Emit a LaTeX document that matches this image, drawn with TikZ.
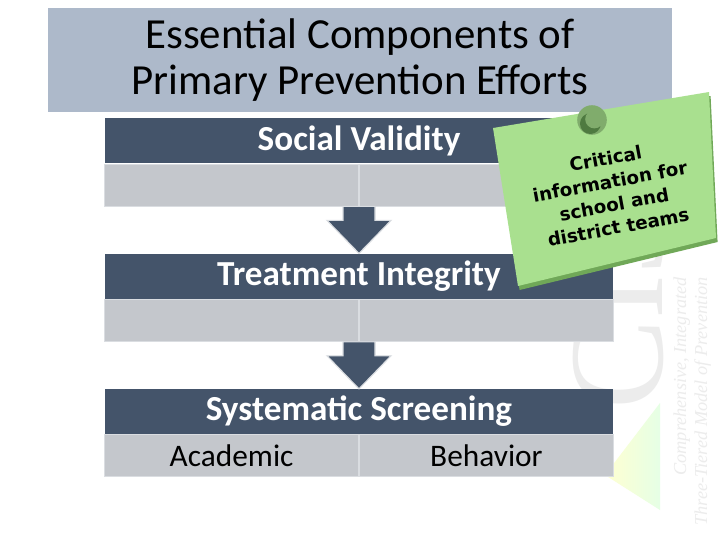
\documentclass[tikz,border=0pt]{standalone}
\usepackage{fontspec}
\setmainfont{Carlito}
\newfontfamily\notefont{DejaVu Sans}
\newfontfamily\markfont{Liberation Serif}
\usepackage{xcolor}
\usepackage{tikz}
\usetikzlibrary{positioning, calc}

\definecolor{titleblue}{RGB}{173,185,202}
\definecolor{slate}{RGB}{68,84,106}
\definecolor{cellgray}{RGB}{196,199,204}
\definecolor{cellline}{RGB}{218,221,225}
\definecolor{notegreen}{RGB}{169,224,143}
\definecolor{notedark}{RGB}{112,168,88}
\definecolor{pinlight}{RGB}{128,172,108}
\definecolor{pindark}{RGB}{78,122,64}
\definecolor{markgray}{RGB}{236,236,236}

\begin{document}
\begin{tikzpicture}[
  titlebox/.style={rectangle, fill=titleblue, minimum width=15.6cm, minimum height=2.6cm,
                   align=center, inner sep=0pt, font=\fontsize{30.5}{33}\selectfont},
  hdrbox/.style={rectangle, fill=slate, text=white, minimum width=12.7cm, minimum height=1.125cm,
                 inner sep=0pt, font=\fontsize{25}{28}\selectfont\bfseries},
  cellbox/.style={rectangle, fill=cellgray, draw=cellline, line width=0.6pt, minimum width=6.35cm,
                  minimum height=1.05cm, inner sep=0pt, font=\fontsize{22.3}{26}\selectfont},
  bigarrow/.style={fill=slate, draw=cellline, line width=0.8pt},
  notetext/.style={align=center, inner sep=0pt, font=\notefont\bfseries\fontsize{13}{16.5}\selectfont},
  marktext/.style={text=markgray, inner sep=0pt, rotate=90, anchor=base east,
                   font=\markfont\itshape\fontsize{13}{15}\selectfont}
]
\useasboundingbox[fill=white] (0,0) rectangle (18,-13.5);

% faint logo in the back
\shade[left color=yellow!18, right color=green!10] (15.125,-11.875) -- (16.5,-10.075) -- (16.5,-12.75) -- cycle;
\node[text=markgray, inner sep=0pt, rotate=90, anchor=base west,
      font=\markfont\fontsize{96}{96}\selectfont] (logo) at (16.55,-10.25) {CI3T};
\node[marktext] (tagA) at (17.15,-6.925) {Comprehensive, Integrated};
\node[marktext] (tagB) at (17.68,-6.925) {Three-Tiered Model of Prevention};

\node[titlebox] (title) at (9,-1.5) {Essential Components of\\Primary Prevention Efforts};

\node[hdrbox, anchor=north] (hdrA) at (8.975,-2.95) {Social Validity};
\node[cellbox, below left=0pt and 0pt of hdrA.south] (rowAl) {};
\node[cellbox, below right=0pt and 0pt of hdrA.south] (rowAr) {};

\node[hdrbox, below=1.175cm of rowAl.south east] (hdrB) {Treatment Integrity};
\node[cellbox, below left=0pt and 0pt of hdrB.south] (rowBl) {};
\node[cellbox, below right=0pt and 0pt of hdrB.south] (rowBr) {};

\node[hdrbox, below=1.175cm of rowBl.south east] (hdrC) {Systematic Screening};
\node[cellbox, below left=0pt and 0pt of hdrC.south] (rowCl) {Academic};
\node[cellbox, below right=0pt and 0pt of hdrC.south] (rowCr) {Behavior};

\foreach \a/\b in {rowAl/hdrB, rowBl/hdrC}
  \draw[bigarrow] ($(\a.south east)+(-0.4,0)$) -- ++(0,-0.35) -- ++(-0.4,0)
    -- (\b.north) -- ($(\a.south east)+(0.8,-0.35)$) -- ++(-0.4,0)
    -- ($(\a.south east)+(0.4,0)$) -- cycle;

% sticky note
\coordinate (nTL) at (12.325,-3.2);
\coordinate (nTR) at (17.725,-2.3);
\coordinate (nBR) at (17.9,-5.95);
\coordinate (nBL) at (12.95,-7.15);
\fill[notedark] ([shift={(0.04,-0.1)}]nTL) -- ([shift={(0.04,-0.1)}]nTR)
  -- ([shift={(0.04,-0.1)}]nBR) -- ([shift={(0.04,-0.1)}]nBL) -- cycle;
\fill[notegreen] (nTL) -- (nTR) -- (nBR) -- (nBL) -- cycle;
\node[notetext, rotate=10.5] (note) at (15.3,-4.82) {Critical\\information for\\school and\\district teams};
\coordinate (pin) at (14.8,-3.0);
\fill[pinlight] (pin) circle (0.37);
\begin{scope}
  \clip (pin) circle (0.37);
  \fill[pindark] ($(pin)+(-0.04,-0.09)$) circle (0.26);
  \fill[pinlight] ($(pin)+(0.06,0.02)$) circle (0.23);
\end{scope}
\end{tikzpicture}
\end{document}
